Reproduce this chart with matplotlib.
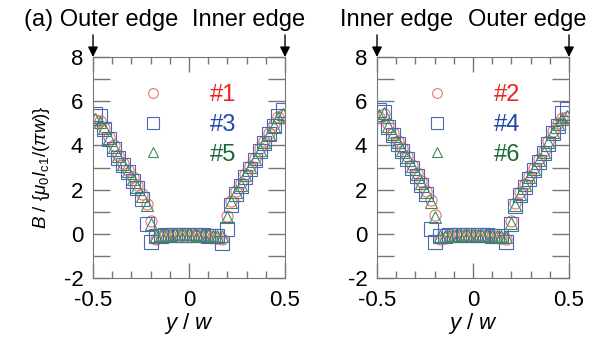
import numpy as np
import matplotlib
matplotlib.use('Agg')
import matplotlib.pyplot as plt
from matplotlib.lines import Line2D

plt.rcParams['font.family'] = ['Liberation Sans', 'DejaVu Sans']
plt.rcParams['mathtext.fontset'] = 'custom'
plt.rcParams['mathtext.rm'] = 'Liberation Sans'
plt.rcParams['mathtext.it'] = 'Liberation Sans:italic'
plt.rcParams['axes.unicode_minus'] = False

# positions y/w (41 points)
yw = np.linspace(-0.49, 0.49, 41)

# left panel: #1, #3, #5
b1 = [5.15, 5.10, 4.80, 4.40, 4.00, 3.58, 3.22, 2.90, 2.55, 2.20, 1.78, 1.35, 0.60,
      -0.22, -0.12, -0.08, -0.06, -0.05, -0.04, -0.04, -0.04, -0.05, -0.06, -0.08, -0.10, -0.14, -0.20, -0.25,
      0.80, 1.50, 1.95, 2.28, 2.70, 3.08, 3.45, 3.86, 4.20, 4.58, 4.95, 5.30, 5.38]
b3 = [5.40, 5.35, 4.72, 4.30, 3.85, 3.45, 3.10, 2.78, 2.40, 2.05, 1.58, 0.45, -0.38,
      -0.10, -0.08, -0.07, -0.06, -0.05, -0.05, -0.05, -0.05, -0.05, -0.06, -0.07, -0.08, -0.10, -0.12,
      -0.40, 0.23,
      1.30, 1.80, 2.15, 2.55, 2.95, 3.35, 3.75, 4.10, 4.50, 4.88, 5.35, 5.60]
b5 = [5.20, 5.08, 4.78, 4.35, 3.92, 3.51, 3.17, 2.85, 2.49, 2.14, 1.73, 1.30, 0.45,
      -0.08, -0.06, -0.05, -0.04, -0.03, -0.03, -0.03, -0.03, -0.03, -0.04, -0.05, -0.06, -0.08, -0.10, -0.12,
      0.75, 1.45, 1.89, 2.22, 2.64, 3.02, 3.39, 3.81, 4.15, 4.52, 4.90, 5.28, 5.43]

# right panel: #2, #4, #6
b2 = [5.30, 5.40, 4.95, 4.58, 4.20, 3.86, 3.52, 3.12, 2.77, 2.37, 1.95, 1.52, 0.85,
      -0.25, -0.18, -0.12, -0.08, -0.06, -0.05, -0.05, -0.05, -0.05, -0.06, -0.08, -0.10, -0.14, -0.18, -0.22,
      0.58, 1.38, 1.88, 2.25, 2.63, 3.00, 3.38, 3.76, 4.20, 4.64, 5.00, 5.22, 5.30]
b4 = [5.60, 5.50, 4.85, 4.45, 4.08, 3.74, 3.40, 3.00, 2.62, 2.22, 1.80, 0.23, -0.38,
      -0.10, -0.08, -0.07, -0.06, -0.05, -0.05, -0.05, -0.05, -0.05, -0.06, -0.07, -0.08, -0.10, -0.12,
      -0.38, 0.45,
      1.25, 1.75, 2.12, 2.50, 2.88, 3.26, 3.64, 4.08, 4.55, 4.90, 5.45, 5.65]
b6 = [5.38, 5.45, 4.90, 4.52, 4.15, 3.81, 3.47, 3.06, 2.71, 2.31, 1.89, 1.46, 0.75,
      -0.12, -0.10, -0.08, -0.06, -0.05, -0.04, -0.04, -0.04, -0.04, -0.05, -0.06, -0.08, -0.10, -0.12, -0.15,
      0.50, 1.31, 1.81, 2.19, 2.57, 2.94, 3.32, 3.70, 4.15, 4.60, 4.95, 5.20, 5.35]

labels_l = ['#1', '#3', '#5']
labels_r = ['#2', '#4', '#6']
edges_l = ['(a) Outer edge', 'Inner edge']
edges_r = ['Inner edge', 'Outer edge']

markers = ['o', 's', '^']
msizes = [8, 9.5, 8.5]
mcols = ['#f07070', '#4a68b8', '#3f8a55']
tcols = ['#ee2020', '#1f45a8', '#17683a']
axcol = '#777777'

fig = plt.figure(figsize=(6.01, 3.41), dpi=100)
ax1 = fig.add_axes([93/601, 63/341, 192/601, 221/341])
ax2 = fig.add_axes([377/601, 63/341, 192/601, 221/341])

for ax, series, labels in [(ax1, [b1, b3, b5], labels_l), (ax2, [b2, b4, b6], labels_r)]:
    for k in range(3):
        ax.plot(yw, series[k], linestyle='none', marker=markers[k], ms=msizes[k],
                mfc='none', mec=mcols[k], mew=0.8)
    handles = [Line2D([], [], linestyle='none', marker=markers[k], ms=msizes[k] - 1,
                      mfc='none', mec=mcols[k], mew=0.8) for k in range(3)]
    ax.legend(handles, labels, labelcolor=tcols, frameon=False, fontsize=17,
              loc='upper left', bbox_to_anchor=(0.202, 0.92), borderaxespad=0,
              handlelength=1.0, handletextpad=1.92, labelspacing=0.33)
    ax.set_xlim(-0.5, 0.5)
    ax.set_ylim(-2, 8)
    ax.set_xticks([-0.5, 0, 0.5])
    ax.set_xticklabels(['-0.5', '0', '0.5'])
    ax.set_xticks(np.arange(-0.4, 0.45, 0.1), minor=True)
    ax.set_yticks(np.arange(-2, 9, 2))
    ax.set_yticks(np.arange(-1, 8, 2), minor=True)
    ax.tick_params(which='both', direction='in', top=True, right=True, colors=axcol,
                   labelcolor='black', labelsize=16, width=1)
    ax.tick_params(axis='x', which='major', length=11, pad=9)
    ax.tick_params(axis='x', which='minor', length=5)
    ax.tick_params(axis='y', which='both', length=12, pad=7)
    for sp in ax.spines.values():
        sp.set_color(axcol)
    ax.set_xlabel('$y$ / $w$', fontsize=16, labelpad=0)
    # edge arrows
    for xe in [-0.5, 0.5]:
        ax.annotate('', xy=(xe, 8), xytext=(xe, 9.0), annotation_clip=False,
                    arrowprops=dict(arrowstyle='-|>', color='black', lw=1,
                                    mutation_scale=15, shrinkA=0, shrinkB=0))

ax1.set_ylabel(r'$B$ / {$\mu_0 I_{\rm c1}$/($\pi w$)}', fontsize=13.5, labelpad=8)

fig.text(101/601, 1 - 20/341, edges_l[0], ha='center', va='center', fontsize=17)
fig.text(249/601, 1 - 20/341, edges_l[1], ha='center', va='center', fontsize=17)
fig.text(397/601, 1 - 20/341, edges_r[0], ha='center', va='center', fontsize=17)
fig.text(527/601, 1 - 20/341, edges_r[1], ha='center', va='center', fontsize=17)

plt.savefig('out.png', dpi=100)
